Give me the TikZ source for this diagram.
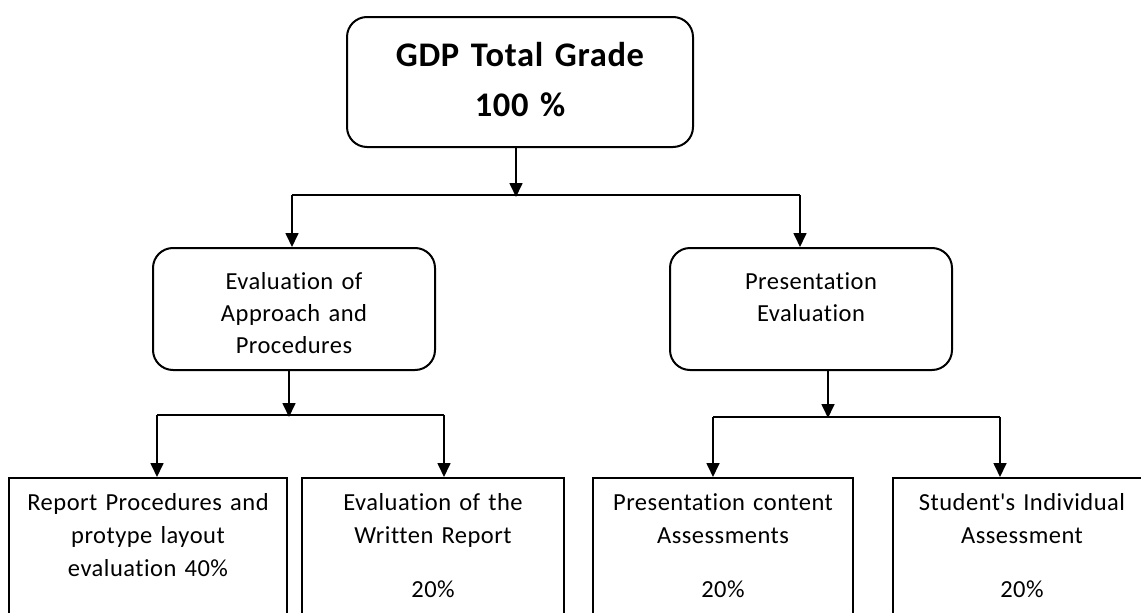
\documentclass[tikz,border=0pt]{standalone}
\usepackage{fontspec}
\setmainfont{Carlito}[Ligatures={NoCommon}, WordSpace=0.75, LetterSpace=2]
\usetikzlibrary{arrows.meta}

\begin{document}
\begin{tikzpicture}[x=1pt,y=-1pt]

          \tikzstyle{roundBox} = [draw, line width=2pt, rounded corners=20pt, inner xsep=0pt, align=center, anchor=north];
          \tikzstyle{plainBox} = [draw, line width=2pt, inner xsep=0pt, inner ysep=14pt, align=center, anchor=north, text height=18pt, text depth=200pt, font=\fontsize{24.5}{33}\selectfont];
          \tikzstyle{midBox} = [roundBox, text width=282pt, inner ysep=23pt, text height=18pt, text depth=58pt, font=\fontsize{24.5}{32}\selectfont];
          \tikzstyle{arrowLine} = [line width=1.7pt, -{Triangle[width=13pt,length=14pt]}];
          \tikzstyle{joinLine} = [line width=1.4pt];

          \useasboundingbox (0,0) rectangle (1141,613);

          \node[roundBox, text width=346pt, inner ysep=24pt, text height=25pt, text depth=57pt, font=\bfseries\fontsize{34.5}{50}\selectfont] (total) at (520,16) {GDP Total Grade\\100 \%};

          \node[midBox] (approach) at (294,247) {Evaluation of\\Approach and\\Procedures};
          \node[midBox] (presentation) at (811,247) {Presentation\\Evaluation};

          \node[plainBox, text width=278pt] (layout) at (148,477) {Report Procedures and\\protype layout\\evaluation 40\%};
          \node[plainBox, text width=262pt] (written) at (433,477) {Evaluation of the\\Written Report\\[21pt]20\%};
          \node[plainBox, text width=260pt] (content) at (723,477) {Presentation content\\Assessments\\[21pt]20\%};
          \node[plainBox, text width=258pt] (individual) at (1022,477) {Student\textquotesingle s Individual\\Assessment\\[21pt]20\%};

          \coordinate (totalLeft) at (292,195);
          \coordinate (totalRight) at (800,195);
          \coordinate (approachLeft) at (157,415);
          \coordinate (approachRight) at (444,415);
          \coordinate (presentationLeft) at (713,417);
          \coordinate (presentationRight) at (1000,417);

          \draw[arrowLine] ([xshift=-4pt]total.south) -- ++(0,49);
          \draw[joinLine] (totalLeft) -- (totalRight);
          \draw[arrowLine] (totalLeft) -- (totalLeft |- approach.north);
          \draw[arrowLine] (totalRight) -- (totalRight |- presentation.north);

          \draw[arrowLine] ([xshift=-5pt]approach.south) -- ++(0,46);
          \draw[joinLine] (approachLeft) -- (approachRight);
          \draw[arrowLine] (approachLeft) -- (approachLeft |- layout.north);
          \draw[arrowLine] (approachRight) -- (approachRight |- written.north);

          \draw[arrowLine] ([xshift=17pt]presentation.south) -- ++(0,47);
          \draw[joinLine] (presentationLeft) -- (presentationRight);
          \draw[arrowLine] (presentationLeft) -- (presentationLeft |- content.north);
          \draw[arrowLine] (presentationRight) -- (presentationRight |- individual.north);
        \end{tikzpicture}
\end{document}
